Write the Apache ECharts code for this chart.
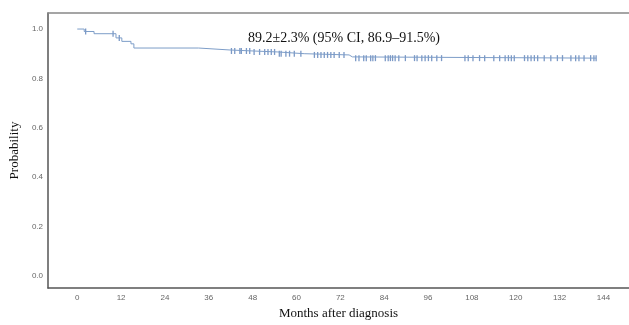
<!DOCTYPE html>
<html><head><meta charset="utf-8">
<script src="https://cdn.jsdelivr.net/npm/echarts@6/dist/echarts.min.js"></script>
<style>html,body{margin:0;padding:0;background:#fff}#c{width:629px;height:325px}</style>
</head><body><div id="c"></div>
<script>
// Kaplan-Meier step points [month, survival]
const stepTimes = [0, 1.9, 4.6, 10.6, 12.2, 14.7, 15.5, 33.2, 41.8, 48.1, 54.9, 62.1, 74.4, 75.3, 142];
const stepSurv  = [1.0, 0.990, 0.981, 0.964, 0.950, 0.940, 0.923, 0.915, 0.911, 0.907, 0.900, 0.895, 0.887, 0.882, 0.882];
// censored observation times (months)
const censorTimes = [2.3, 9.8, 11.5, 42.2, 43.1, 44.5, 44.9, 46.3, 47.2, 48.4, 49.9, 51.3, 52.2, 53.1, 54.0, 55.3, 55.8, 57.1, 58.1, 59.4, 61.2,
  64.9, 65.8, 66.7, 67.6, 68.5, 69.4, 70.3, 71.7, 73.0, 76.2, 77.1, 78.4, 79.1, 80.3, 80.9, 81.6, 84.3, 85.1, 85.7, 86.3, 87.0, 88.0, 89.8,
  92.3, 93.0, 94.3, 95.2, 96.1, 97.0, 98.4, 99.7, 106.1, 107.0, 108.3, 110.1, 111.5, 114.0, 115.6, 117.1, 118.0, 118.8, 119.6,
  122.4, 123.3, 124.2, 125.1, 126.0, 127.8, 129.6, 131.4, 132.8, 135.1, 136.4, 137.3, 138.7, 140.5, 141.4, 142.0];
const xTicks = [0, 12, 24, 36, 48, 60, 72, 84, 96, 108, 120, 132, 144];
const yTicks = [0, 0.2, 0.4, 0.6, 0.8, 1.0];
const annotation = '89.2\u00b12.3% (95% CI, 86.9\u201391.5%)';

function survAt(t){ let s = stepSurv[0]; for (let i=0;i<stepTimes.length;i++){ if (stepTimes[i] <= t) s = stepSurv[i]; } return s; }
const curve = stepTimes.map((t,i)=>[t, stepSurv[i]]);
const censors = censorTimes.map(t=>[t, survAt(t)]);

const chart = echarts.init(document.getElementById('c'));
chart.setOption({
  animation: false,
  grid: {left: 44, right: 0, top: 13, bottom: 36, show: false},
  title: {text: annotation, left: 243, top: 26, textStyle: {fontFamily: 'Liberation Serif', fontSize: 14, fontWeight: 'normal', color: '#111'}},
  xAxis: [{type: 'value', min: -8, max: 151,
    name: 'Months after diagnosis', nameLocation: 'middle', nameGap: 19,
    nameTextStyle: {fontFamily: 'Liberation Serif', fontSize: 13, color: '#111'},
    axisLine: {show: true, onZero: false, lineStyle: {color: '#555', width: 1.5}}, axisTick: {show: false}, splitLine: {show: false},
    axisLabel: {customValues: xTicks, fontFamily: 'Liberation Sans', fontSize: 8, color: '#666', margin: 6}},
   {type: 'value', position: 'top', min: -8, max: 151,
    axisLine: {show: true, onZero: false, lineStyle: {color: '#888', width: 1.5}}, axisTick: {show: false}, axisLabel: {show: false}, splitLine: {show: false}}],
  yAxis: {type: 'value', min: -0.05, max: 1.065,
    name: 'Probability', nameLocation: 'middle', nameGap: 25, nameRotate: 90,
    nameTextStyle: {fontFamily: 'Liberation Serif', fontSize: 13, color: '#111'},
    axisLine: {show: true, onZero: false, lineStyle: {color: '#555', width: 1.5}}, axisTick: {show: false}, splitLine: {show: false},
    axisLabel: {customValues: yTicks, formatter: v=>v.toFixed(1), fontFamily: 'Liberation Sans', fontSize: 8, color: '#666', margin: 5}},
  series: [
    {type: 'line', step: 'end', data: curve, showSymbol: false, lineStyle: {color: '#7d9dc8', width: 1}},
    {type: 'scatter', data: censors, symbol: 'rect', symbolSize: [1.3, 6], itemStyle: {color: '#5a80b8'}}
  ]
});
</script></body></html>
